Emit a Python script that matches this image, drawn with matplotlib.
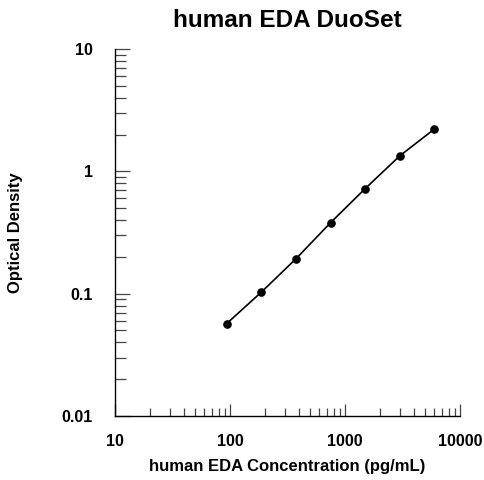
import matplotlib
matplotlib.use("Agg")
import matplotlib.pyplot as plt
from matplotlib.ticker import LogLocator, NullFormatter

conc = [93.75, 187.5, 375, 750, 1500, 3000, 6000]
od = [0.057, 0.103, 0.193, 0.381, 0.723, 1.34, 2.22]
xticks = [10, 100, 1000, 10000]
xticklabels = ["10", "100", "1000", "10000"]
yticks = [0.01, 0.1, 1, 10]
yticklabels = ["0.01", "0.1", "1", "10"]

plt.rcParams['font.family'] = ['Liberation Sans', 'DejaVu Sans']
plt.rcParams['font.weight'] = 'bold'

fig = plt.figure(figsize=(4.84, 4.80), dpi=100)
ax = fig.add_axes([115/484, 64/480, 345/484, 367/480])
ax.plot(conc, od, '-', color='black', lw=1.2, marker='o', ms=5.2)
ax.set_xscale('log')
ax.set_yscale('log')
ax.set_xlim(10, 10000)
ax.set_ylim(0.01, 10)
for s in ['top', 'right']:
    ax.spines[s].set_visible(False)
ax.spines['left'].set_linewidth(1.0)
ax.spines['bottom'].set_linewidth(1.0)
ax.set_xticks(xticks)
ax.set_xticklabels(xticklabels)
ax.set_yticks(yticks)
ax.set_yticklabels(yticklabels)
ax.xaxis.set_minor_locator(LogLocator(base=10, subs=range(2, 10)))
ax.yaxis.set_minor_locator(LogLocator(base=10, subs=range(2, 10)))
ax.xaxis.set_minor_formatter(NullFormatter())
ax.yaxis.set_minor_formatter(NullFormatter())
ax.tick_params(which='major', direction='in', length=9, width=0.9, color='#444444', labelsize=11.5)
ax.tick_params(which='minor', direction='in', length=6, width=0.9, color='#444444')
ax.tick_params(axis='y', which='major', length=11, pad=16)
ax.tick_params(axis='y', which='minor', length=8)
ax.tick_params(axis='x', which='major', pad=13)
ax.set_title("human EDA DuoSet", fontsize=17.5, fontweight='bold', pad=16)
ax.set_xlabel("human EDA Concentration (pg/mL)", fontsize=12, fontweight='bold', labelpad=7)
ax.set_ylabel("Optical Density", fontsize=12, fontweight='bold', labelpad=28)
fig.savefig("out.png", dpi=100)
